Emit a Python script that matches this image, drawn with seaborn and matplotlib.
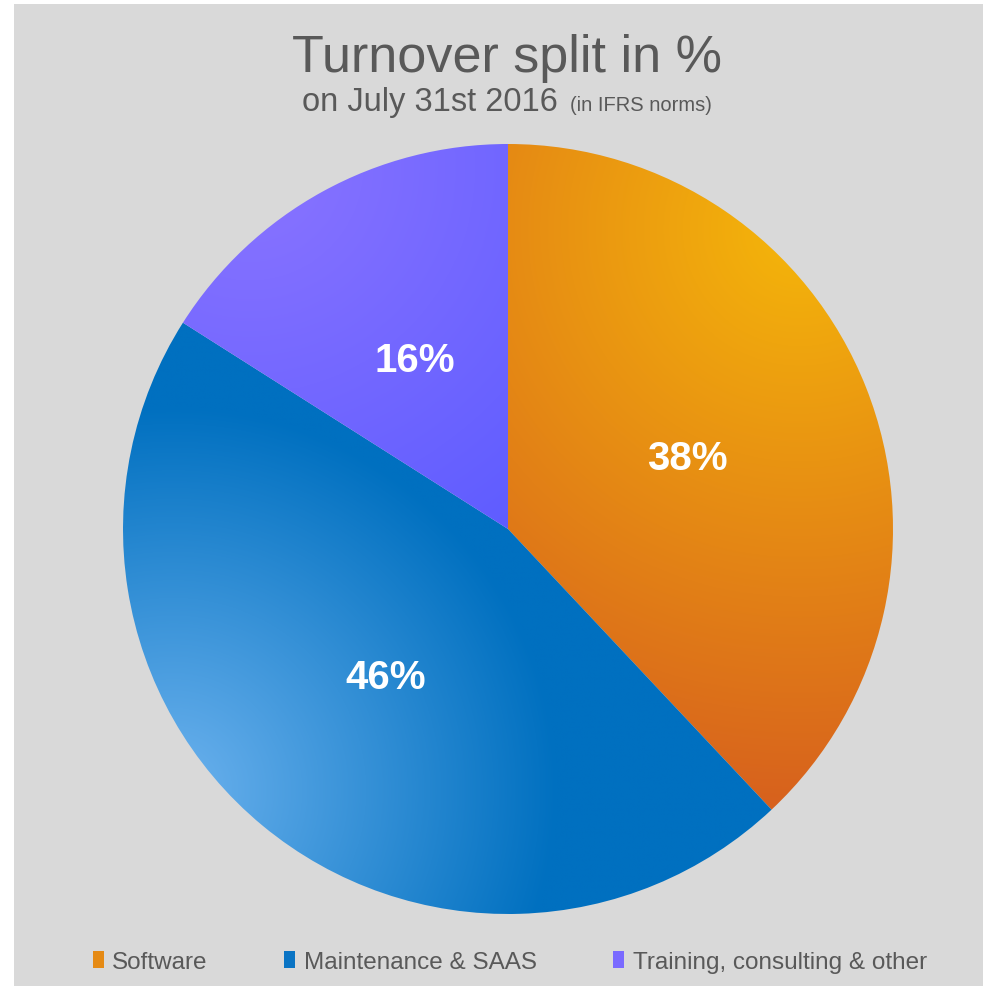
import numpy as np
import matplotlib
matplotlib.use('Agg')
import matplotlib.pyplot as plt
import seaborn as sns
from matplotlib.patches import Patch, Rectangle

# dane wykresu
labels = ['Software', 'Maintenance & SAAS', 'Training, consulting & other']
shares = [38, 46, 16]

# kolory gradientów (jasny -> ciemny) i kolory legendy
light_colors = ['#f5b60a', '#6cb2ee', '#8a74ff']
dark_colors = ['#d65e1e', '#0070c0', '#5e5cff']
legend_colors = ['#e58a14', '#0a74c4', '#7a6aff']
# środek jasnej plamy gradientu (w jednostkach promienia) i jej zasięg
glow_centers = [(0.76, 0.78), (-0.87, -0.68), (-0.67, 0.94)]
glow_reach = [1.56, 1.0, 1.17]

sns.set_theme(style='white')
plt.rcParams['font.family'] = ['Liberation Sans', 'DejaVu Sans']

W, H = 983, 987
fig = plt.figure(figsize=(W / 100, H / 100), dpi=100)
fig.patch.set_facecolor('white')

# szare tło
fig.add_artist(Rectangle((14 / W, 0), 1 - 14 / W, 1 - 5 / H, transform=fig.transFigure,
                         facecolor='#d9d9d9', edgecolor='none', zorder=0))

ax = fig.add_axes([123 / W, 72 / H, 770 / W, 770 / H])
wedges, texts, autotexts = ax.pie(shares, startangle=90, counterclock=False,
                                  autopct=lambda p: f'{p:.0f}%', pctdistance=0.5,
                                  wedgeprops=dict(linewidth=0),
                                  textprops=dict(color='white', fontsize=29, fontweight='bold'))

# gradient w każdym wycinku
grid = np.linspace(-1, 1, 800)
X, Y = np.meshgrid(grid, grid)
for wedge, lc, dc, (cx, cy), reach in zip(wedges, light_colors, dark_colors, glow_centers, glow_reach):
    wedge.set_facecolor('none')
    cmap = sns.blend_palette([lc, dc], n_colors=256, as_cmap=True)
    t = np.clip(np.hypot(X - cx, Y - cy) / reach, 0, 1)
    im = ax.imshow(t, cmap=cmap, vmin=0, vmax=1, extent=(-1, 1, -1, 1), origin='lower',
                   interpolation='bilinear', zorder=1)
    im.set_clip_path(wedge)

for t in autotexts:
    t.set_zorder(5)

ax.set_xlim(-1, 1)
ax.set_ylim(-1, 1)
ax.set_aspect('equal')
ax.set_axis_off()

# tytuł i podtytuł
grey = '#595959'
fig.text(507 / W, 1 - 72 / H, 'Turnover split in %', ha='center', va='baseline',
         fontsize=37.5, color=grey)
fig.text(558 / W, 1 - 111 / H, 'on July 31st 2016', ha='right', va='baseline',
         fontsize=23.5, color=grey)
fig.text(570 / W, 1 - 111 / H, '(in IFRS norms)', ha='left', va='baseline',
         fontsize=14.5, color=grey)

# legenda
handles = [Patch(facecolor=c, edgecolor='none', label=l) for c, l in zip(legend_colors, labels)]
leg = fig.legend(handles=handles, loc='center', bbox_to_anchor=(510 / W, 24 / H), ncol=3,
                 frameon=False, fontsize=17.5, handlelength=0.45, handleheight=0.7,
                 handletextpad=0.35, columnspacing=3.15, labelcolor=grey)

fig.savefig('out.png', dpi=100)
